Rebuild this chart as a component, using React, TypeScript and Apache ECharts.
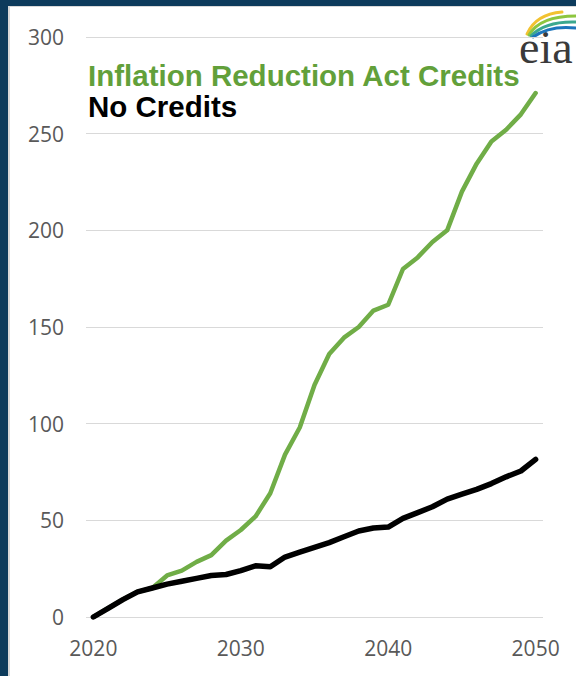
import React, { useEffect, useRef } from "react";
import * as echarts from "echarts";

const years: string[] = [];
for (let y = 2020; y <= 2050; y++) years.push(String(y));

const iraCredits = [
  0, 4.5, 9, 13, 15, 21.5, 24, 28.5, 32, 39.5,
  45, 52, 64, 84, 98, 120, 136, 144.5, 150, 158.5,
  161.5, 180, 186, 194, 200, 220, 234.5, 246, 252, 260,
  271,
];

const noCredits = [
  0, 4.5, 9, 13, 15, 17, 18.5, 20, 21.5, 22,
  24, 26.5, 26, 31, 33.5, 36, 38.5, 41.5, 44.5, 46,
  46.5, 51, 54, 57, 61, 63.5, 66, 69, 72.5, 75.5,
  81.5,
];

const yTicks = { min: 0, max: 300, interval: 50 };
const legendLabels = ["Inflation Reduction Act Credits", "No Credits"];

const GREEN = "#70AD47";
const GREEN_TEXT = "#62A03A";

export default function App() {
  const ref = useRef<HTMLDivElement>(null);
  useEffect(() => {
    if (!ref.current) return;
    const chart = echarts.init(ref.current, null, { renderer: "svg" });
    const arc = (x1: number, y1: number, cx: number, cy: number, x2: number, y2: number, color: string) => ({
      type: "bezierCurve",
      shape: { x1, y1, cpx1: cx, cpy1: cy, x2, y2 },
      style: { stroke: color, lineWidth: 3, fill: null, lineCap: "round" },
    });
    chart.setOption({
      animation: false,
      backgroundColor: "transparent",
      grid: { left: 86, right: 33, top: 37, bottom: 59, containLabel: false },
      xAxis: {
        type: "category",
        data: years,
        boundaryGap: true,
        axisLine: { show: false },
        axisTick: { show: false },
        axisLabel: {
          interval: 9,
          margin: 20,
          fontSize: 21,
          fontFamily: "Open Sans",
          color: "#595959",
        },
        splitLine: { show: false },
      },
      yAxis: {
        type: "value",
        min: yTicks.min,
        max: yTicks.max,
        interval: yTicks.interval,
        axisLine: { show: false },
        axisTick: { show: false },
        axisLabel: {
          margin: 22,
          fontSize: 21,
          fontFamily: "Open Sans",
          color: "#595959",
        },
        splitLine: { show: true, lineStyle: { color: "#D9D9D9", width: 1 } },
      },
      series: [
        {
          name: legendLabels[0],
          type: "line",
          data: iraCredits,
          showSymbol: false,
          symbol: "none",
          lineStyle: { color: GREEN, width: 4.5, cap: "round", join: "round" },
          z: 2,
        },
        {
          name: legendLabels[1],
          type: "line",
          data: noCredits,
          showSymbol: false,
          symbol: "none",
          lineStyle: { color: "#000000", width: 5.5, cap: "round", join: "round" },
          z: 3,
        },
      ],
      graphic: [
        {
          type: "text",
          left: 88,
          top: 60,
          style: {
            text: legendLabels[0],
            fill: GREEN_TEXT,
            font: "bold 29.5px 'Liberation Sans', Arial, sans-serif",
          },
        },
        {
          type: "text",
          left: 88,
          top: 91,
          style: {
            text: legendLabels[1],
            fill: "#000000",
            font: "bold 29.5px 'Liberation Sans', Arial, sans-serif",
          },
        },
        {
          type: "text",
          x: 519,
          y: 47,
          style: {
            text: "eia",
            fill: "#3A3A3A",
            font: "46px 'Liberation Serif', 'Times New Roman', serif",
            verticalAlign: "middle",
          },
        },
        arc(527, 34, 536, 14, 562, 12, "#F2C230"),
        arc(529, 35, 540, 16, 576, 16, "#8DC63F"),
        arc(531, 36, 545, 21, 576, 22, "#3BA88F"),
        arc(533, 37, 550, 25, 576, 28, "#1C75BC"),
      ],
    });
    return () => chart.dispose();
  }, []);

  return (
    <div
      style={{
        position: "fixed",
        left: 0,
        top: 0,
        width: 576,
        height: 676,
        background: "#0D3B5C",
        overflow: "hidden",
      }}
    >
      <div
        style={{
          position: "absolute",
          left: 8,
          top: 6,
          right: 0,
          bottom: 0,
          background: "#FFFFFF",
          borderLeft: "2px solid #D9D9D9",
          borderTop: "1px solid #D9D9D9",
        }}
      />
      <div
        ref={ref}
        style={{ position: "absolute", left: 0, top: 0, width: 576, height: 676 }}
      />
    </div>
  );
}
